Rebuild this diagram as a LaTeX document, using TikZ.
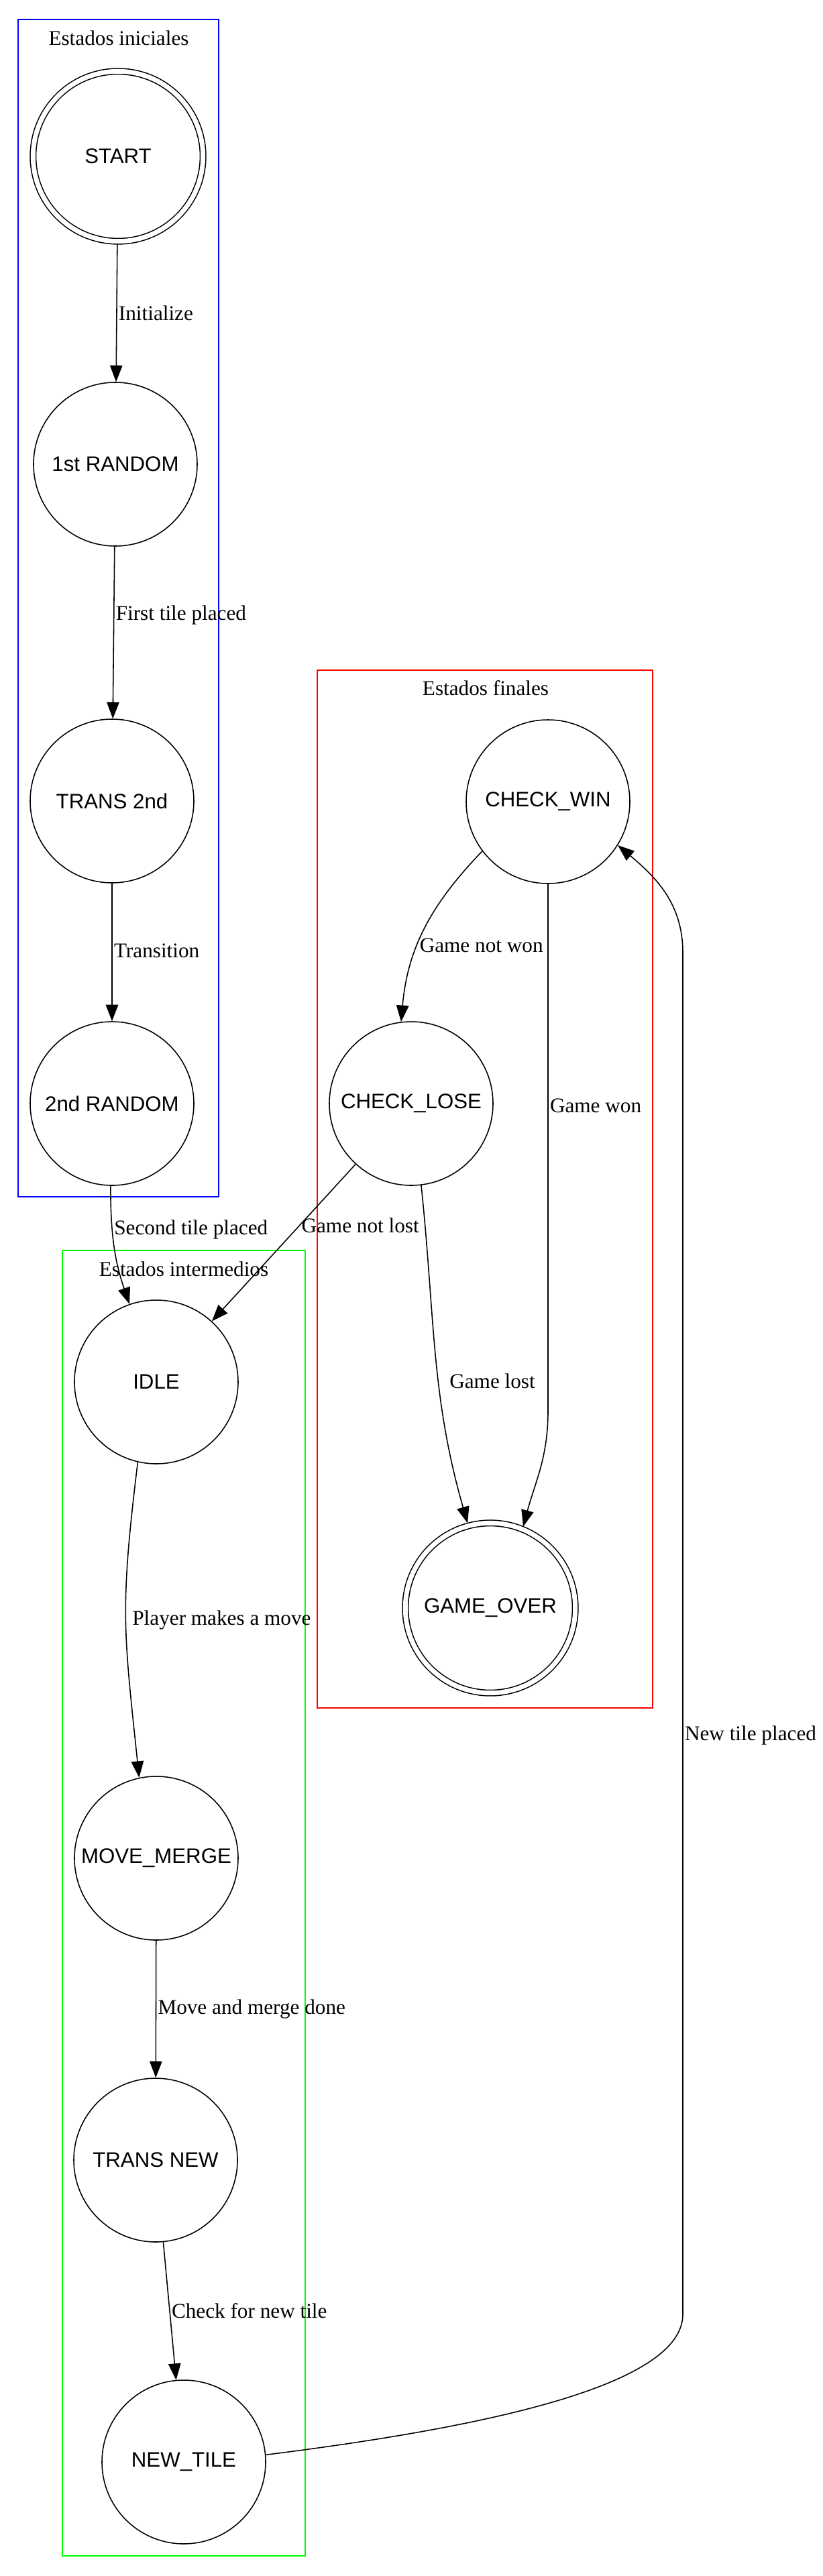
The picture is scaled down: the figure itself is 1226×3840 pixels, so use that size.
\documentclass[tikz,border=0pt]{standalone}
\usepackage{fontspec}
\setmainfont{Liberation Serif}
\newfontfamily\statefont{Liberation Sans}
\usetikzlibrary{arrows.meta, positioning, calc}
\definecolor{initcolor}{RGB}{0,0,255}
\definecolor{midcolor}{RGB}{0,255,0}
\definecolor{endcolor}{RGB}{255,0,0}
\tikzset{
    state/.style={circle, draw, line width=0.7pt, minimum size=109.4pt, inner sep=0pt,
        font=\statefont\fontsize{14}{16}\selectfont},
    final/.style={state, double, double distance=3.1pt, minimum size=113.6pt, outer sep=1.9pt},
    cluster/.style={line width=0.9pt},
    title/.style={font=\fontsize{14}{16}\selectfont, inner sep=0pt},
    lbl/.style={font=\fontsize{14}{16}\selectfont, inner sep=1pt, right},
    arrow/.style={-{Triangle[length=11pt, width=8.3pt]}, line width=0.7pt}
}

\begin{document}
\begin{tikzpicture}[x=0.4484pt, y=0.4484pt]

    \useasboundingbox (0,0) rectangle (1226,-3840);

    % clusters
    \draw[cluster, draw=initcolor] (27,-29) rectangle (326,-1784);
    \node[title] (initlbl) at (177,-57) {Estados iniciales};
    \draw[cluster, draw=endcolor] (473,-999) rectangle (973,-2546);
    \node[title] (endlbl) at (724,-1026) {Estados finales};
    \draw[cluster, draw=midcolor] (93,-1864) rectangle (455,-3810);
    \node[title] (midlbl) at (274,-1892) {Estados intermedios};

    % states
    \node[final] (start) at (176,-233) {START};
    \node[state] (rand1) at (172,-692) {1st RANDOM};
    \node[state] (trans2) at (167,-1194) {TRANS 2nd};
    \node[state] (rand2) at (167,-1645) {2nd RANDOM};

    \node[state] (cwin) at (817,-1195) {CHECK\_WIN};
    \node[state] (close) at (613,-1645) {CHECK\_LOSE};
    \node[final] (gover) at (731,-2397) {GAME\_OVER};

    \node[state] (idle) at (233,-2060) {IDLE};
    \node[state] (merge) at (233,-2770) {MOVE\_MERGE};
    \node[state] (transnew) at (232,-3220) {TRANS NEW};
    \node[state] (ntile) at (274,-3670) {NEW\_TILE};

    \coordinate (wonbend) at (817,-2104);
    \coordinate (loopbot) at (1018,-3450);
    \coordinate (looptop) at (1018,-1420);

    % transitions
    \draw[arrow] (start) -- node[lbl, pos=0.5] {Initialize} (rand1);
    \draw[arrow] (rand1) -- node[lbl, pos=0.4] {First tile placed} (trans2);
    \draw[arrow] (trans2) -- node[lbl, pos=0.49] {Transition} (rand2);
    \draw[arrow] (rand2.269) to[out=-90, in=109] node[lbl, pos=0.35] {Second tile placed} (idle.109);
    \draw[arrow] (close) -- node[lbl, pos=0.39] {Game not lost} (idle);
    \draw[arrow] (idle.257) to[out=-97, in=96, looseness=1.2] node[lbl, pos=0.5, xshift=3pt] {Player makes a move} (merge.102);
    \draw[arrow] (merge) -- node[lbl, pos=0.5] {Move and merge done} (transnew);
    \draw[arrow] (transnew) -- node[lbl, pos=0.5] {Check for new tile} (ntile);
    \draw[arrow] (cwin.217) to[out=-134, in=85] node[lbl, pos=0.6] {Game not won} (close.97);
    \draw[arrow] (cwin.south) -- node[lbl, pos=0.42] {Game won} (wonbend) to[out=-90, in=75] (gover.68);
    \draw[arrow] (close.-83) to[out=-84, in=106] node[lbl, pos=0.58, xshift=6pt] {Game lost} (gover.105);
    \draw[arrow] (ntile.5) .. controls +(303,38) and +(0,-110) .. (loopbot)
        -- node[lbl, pos=0.425] {New tile placed} (looptop) to[out=90, in=-40] (cwin.-32);

\end{tikzpicture}
\end{document}
